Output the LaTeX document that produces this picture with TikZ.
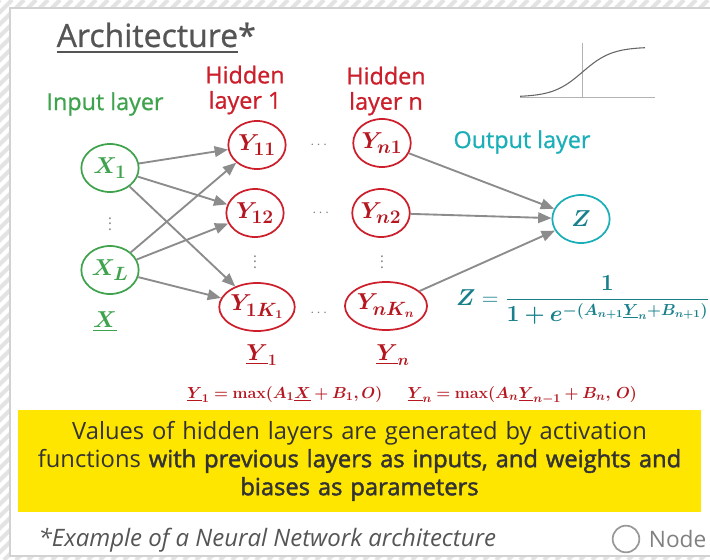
\documentclass[tikz,border=0pt]{standalone}
\usepackage{amsmath}
\usepackage[no-math]{fontspec}
\setmainfont{Open Sans}
\newfontfamily\medfont[FakeBold=0.8]{Open Sans}
\newfontfamily\heavyfont[FakeBold=1.8]{Open Sans}
\usepackage{bm}
\usetikzlibrary{shapes.geometric,arrows.meta}

\definecolor{ingreen}{HTML}{3FA34D}
\definecolor{hidred}{HTML}{CC1F2B}
\definecolor{mathred}{HTML}{B5161F}
\definecolor{outteal}{HTML}{1AAFB8}
\definecolor{darkteal}{HTML}{17808A}
\definecolor{eyyellow}{HTML}{FFE600}
\definecolor{txtgray}{HTML}{555555}

\newcommand{\bmax}{\bm{\mathrm{max}}}
\newcommand{\zformula}{$\displaystyle\bm{Z}=\frac{\bm{1}}{\bm{1+e^{-(A_{n+1}\underline{Y}_n+B_{n+1})}}}$}
\newcommand{\reluformula}{$\bm{\underline{Y}_1=}\bmax\bm{(A_1\underline{X}+B_1,O)}\quad\ \ \bm{\underline{Y}_n=}\bmax\bm{(A_n\underline{Y}_{n-1}+B_n,\,O)}$}

\tikzset{
  neuron/.style={ellipse, line width=1.3pt, minimum width=43pt, minimum height=36pt, inner sep=0pt, fill=white, font=\fontsize{19}{22}\selectfont},
  conn/.style={draw=gray!90, line width=1.4pt, -{Triangle[length=10pt,width=8pt]}},
  layerlbl/.style={align=center, font=\medfont\fontsize{17.5}{19}\selectfont},
  dots/.style={text=gray, font=\fontsize{11}{12}\selectfont},
  vecl/.style={font=\fontsize{17}{20}\selectfont},
}

\begin{document}
\begin{tikzpicture}[x=0.75pt,y=-0.75pt]
		%MARCO
		\useasboundingbox (0,0) rectangle (710,560);
		\begin{scope}
			\clip (0,0) rectangle (710,560);
			\foreach \i in {-560,-548,...,720}{
				\draw[gray!22, line width=3pt] (\i,560) -- ++(560,-560);
			}
		\end{scope}
		\fill[white] (10,8) rectangle (716,556);
		\draw[gray!35, line width=1.2pt] (716,8) -- (10,8) -- (10,556) -- (716,556);

		%TITULO
		\node[anchor=base west, text=txtgray, font=\medfont\fontsize{24}{28}\selectfont] (title) at (52,47) {\underline{Architecture}*};

		%SIGMOIDE
		\draw[gray!60, line width=0.5pt] (520,97) -- (655,97);
		\draw[gray!60, line width=0.5pt] (582,43) -- (582,97);
		\draw[gray!80!black, line width=0.8pt] plot[domain=-5:5, samples=40, smooth] ({520+12.5*(\x+5)}, {97-50/(1+exp(-0.85*\x))});

		%ETIQUETAS DE CAPAS
		\node[layerlbl, text=ingreen] (inlbl) at (105,104) {Input layer};
		\node[layerlbl, text=hidred] (h1lbl) at (245,90) {Hidden\\layer 1};
		\node[layerlbl, text=hidred] (hnlbl) at (386,91) {Hidden\\layer n};
		\node[layerlbl, text=outteal] (outlbl) at (522,142) {Output layer};

		%FORMULAS
		\node[text=darkteal, font=\fontsize{16.5}{19}\selectfont] (zform) at (583,300) {\zformula};
		\node[text=mathred, font=\fontsize{12.5}{15}\selectfont] (relu) at (412,395) {\reluformula};

		%NEURONAS
		\node[neuron, draw=ingreen, text=ingreen] (x1) at (110,168) {$\bm{X_1}$};
		\node[neuron, draw=ingreen, text=ingreen] (xl) at (110,270) {$\bm{X_L}$};
		\node[neuron, draw=hidred, text=mathred] (y11) at (257,145) {$\bm{Y_{11}}$};
		\node[neuron, draw=hidred, text=mathred] (y12) at (255,213) {$\bm{Y_{12}}$};
		\node[neuron, draw=hidred, text=mathred] (y1k) at (257,307) {$\bm{Y_{1K_1}}$};
		\node[neuron, draw=hidred, text=mathred] (yn1) at (382,143) {$\bm{Y_{n1}}$};
		\node[neuron, draw=hidred, text=mathred] (yn2) at (381,213) {$\bm{Y_{n2}}$};
		\node[neuron, draw=hidred, text=mathred] (ynk) at (386,306) {$\bm{Y_{nK_n}}$};
		\node[neuron, draw=outteal, text=darkteal] (zout) at (581,219) {$\bm{Z}$};

		%PUNTOS
		\node[dots] (vd1) at (110,220) {$\vdots$};
		\node[dots] (vd2) at (255,258) {$\vdots$};
		\node[dots] (vd3) at (382,258) {$\vdots$};
		\node[dots] (hd1) at (320,145) {$\cdots$};
		\node[dots] (hd2) at (322,213) {$\cdots$};
		\node[dots] (hd3) at (320,313) {$\cdots$};

		%VECTORES
		\node[vecl, text=ingreen] (xvec) at (105,322) {$\underline{\bm{X}}$};
		\node[vecl, text=mathred] (y1vec) at (262,355) {$\underline{\bm{Y}}_{\bm{1}}$};
		\node[vecl, text=mathred] (ynvec) at (393,355) {$\underline{\bm{Y}}_{\bm{n}}$};

		%CONEXIONES
		\foreach \src in {x1,xl}{
			\foreach \dst in {y11,y12,y1k}{
				\draw[conn] (\src) -- (\dst);
			}
		}
		\foreach \src in {yn1,yn2,ynk}{
			\draw[conn] (\src) -- (zout);
		}

		%CAJA AMARILLA
		\node[fill=eyyellow, minimum width=506pt, minimum height=76.5pt, text width=505pt, align=center, text=black!80, font=\fontsize{17.8}{21}\selectfont] (note) at (359.5,461) {Values of hidden layers are generated by activation\\functions {\heavyfont with previous layers as inputs, and weights and}\\{\heavyfont biases as parameters}};

		%PIE
		\node[anchor=west, text=txtgray, font=\itshape\fontsize{18}{21}\selectfont] (foot) at (34,540) {*Example of a Neural Network architecture};
		\node[circle, draw=gray!80, line width=1.3pt, minimum size=20pt] (legnode) at (626,539) {};
		\node[anchor=west, text=gray, font=\fontsize{17}{20}\selectfont] (legtxt) at ([xshift=3pt]legnode.east) {Node};
	\end{tikzpicture}
\end{document}
